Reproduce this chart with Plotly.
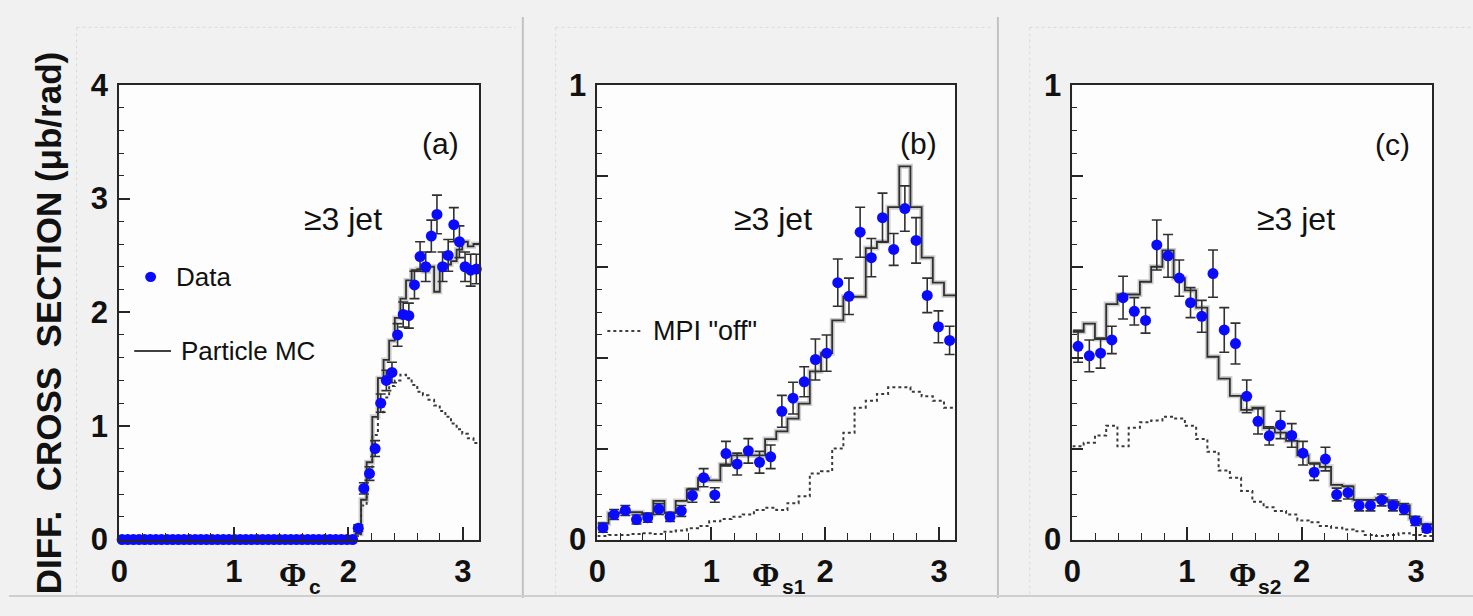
import numpy as np
import plotly.graph_objects as go

W, H = 1473, 616
PI = np.pi

# ---------------- data ----------------
# panel (a): Phi_c, 64 bins on [0, pi]
data_a = [0, 0, 0, 0, 0, 0, 0, 0, 0, 0,
          0, 0, 0, 0, 0, 0, 0, 0, 0, 0,
          0, 0, 0, 0, 0, 0, 0, 0, 0, 0,
          0, 0, 0, 0, 0, 0, 0, 0, 0, 0,
          0, 0,
          0.10, 0.45, 0.58, 0.80, 1.20, 1.40, 1.47, 1.80, 1.98, 1.97,
          2.24, 2.49, 2.40, 2.67, 2.86, 2.40, 2.50, 2.77, 2.62, 2.40,
          2.37, 2.38]
err_a = [0, 0, 0, 0, 0, 0, 0, 0, 0, 0,
         0, 0, 0, 0, 0, 0, 0, 0, 0, 0,
         0, 0, 0, 0, 0, 0, 0, 0, 0, 0,
         0, 0, 0, 0, 0, 0, 0, 0, 0, 0,
         0, 0,
         0.03, 0.05, 0.06, 0.07, 0.08, 0.09, 0.09, 0.10, 0.11, 0.11,
         0.12, 0.13, 0.13, 0.14, 0.17, 0.13, 0.14, 0.15, 0.14, 0.13,
         0.14, 0.13]
mc_a = [0, 0, 0, 0, 0, 0, 0, 0, 0, 0,
        0, 0, 0, 0, 0, 0, 0, 0, 0, 0,
        0, 0, 0, 0, 0, 0, 0, 0, 0, 0,
        0, 0, 0, 0, 0, 0, 0, 0, 0, 0,
        0, 0,
        0.05, 0.35, 0.68, 1.08, 1.42, 1.58, 1.75, 1.95, 2.12, 2.28,
        2.37, 2.38, 2.36, 2.40, 2.18, 2.40, 2.42, 2.45, 2.55, 2.62,
        2.58, 2.60]
mpi_a = [0, 0, 0, 0, 0, 0, 0, 0, 0, 0,
         0, 0, 0, 0, 0, 0, 0, 0, 0, 0,
         0, 0, 0, 0, 0, 0, 0, 0, 0, 0,
         0, 0, 0, 0, 0, 0, 0, 0, 0, 0,
         0, 0,
         0.03, 0.30, 0.60, 0.92, 1.12, 1.25, 1.35, 1.40, 1.45, 1.42,
         1.36, 1.30, 1.27, 1.23, 1.18, 1.13, 1.08, 1.02, 0.97, 0.93,
         0.89, 0.85]

# panel (b): Phi_s1, 32 bins on [0, pi]
data_b = [0.026, 0.055, 0.064, 0.044, 0.048, 0.067, 0.050, 0.063, 0.097, 0.136,
          0.098, 0.189, 0.166, 0.195, 0.170, 0.182, 0.282, 0.311, 0.347, 0.396,
          0.410, 0.565, 0.535, 0.676, 0.620, 0.708, 0.638, 0.728, 0.658, 0.537,
          0.468, 0.438]
err_b = [0.010, 0.011, 0.011, 0.010, 0.010, 0.012, 0.010, 0.012, 0.015, 0.020,
         0.016, 0.027, 0.024, 0.027, 0.024, 0.026, 0.035, 0.035, 0.033, 0.045,
         0.040, 0.052, 0.040, 0.055, 0.042, 0.054, 0.035, 0.050, 0.050, 0.038,
         0.035, 0.031]
mc_b = [0.035, 0.058, 0.060, 0.060, 0.055, 0.085, 0.058, 0.085, 0.110, 0.135,
        0.130, 0.165, 0.185, 0.185, 0.185, 0.221, 0.238, 0.266, 0.299, 0.370,
        0.410, 0.482, 0.534, 0.534, 0.641, 0.655, 0.731, 0.821, 0.731, 0.620,
        0.565, 0.537]
mpi_b = [0.008, 0.010, 0.010, 0.012, 0.014, 0.012, 0.017, 0.020, 0.025, 0.030,
         0.040, 0.045, 0.050, 0.055, 0.065, 0.070, 0.065, 0.080, 0.095, 0.145,
         0.150, 0.200, 0.235, 0.290, 0.305, 0.320, 0.335, 0.335, 0.325, 0.315,
         0.305, 0.290]

# panel (c): Phi_s2, 32 bins on [0, pi]
data_c = [0.425, 0.404, 0.410, 0.439, 0.532, 0.502, 0.482, 0.648, 0.624, 0.575,
          0.521, 0.491, 0.585, 0.461, 0.431, 0.315, 0.260, 0.228, 0.252, 0.229,
          0.190, 0.148, 0.177, 0.099, 0.103, 0.075, 0.075, 0.087, 0.075, 0.067,
          0.041, 0.024]
err_c = [0.035, 0.035, 0.033, 0.030, 0.047, 0.030, 0.028, 0.055, 0.047, 0.040,
         0.033, 0.035, 0.052, 0.049, 0.045, 0.036, 0.028, 0.020, 0.030, 0.026,
         0.026, 0.018, 0.026, 0.014, 0.014, 0.012, 0.012, 0.013, 0.012, 0.012,
         0.010, 0.008]
mc_c = [0.457, 0.475, 0.441, 0.518, 0.539, 0.539, 0.567, 0.600, 0.636, 0.575,
        0.548, 0.510, 0.402, 0.354, 0.316, 0.285, 0.290, 0.245, 0.235, 0.217,
        0.185, 0.168, 0.160, 0.120, 0.117, 0.087, 0.087, 0.091, 0.083, 0.075,
        0.046, 0.034]
mpi_c = [0.205, 0.213, 0.229, 0.250, 0.205, 0.246, 0.258, 0.262, 0.270, 0.266,
         0.250, 0.221, 0.193, 0.152, 0.136, 0.107, 0.083, 0.071, 0.063, 0.055,
         0.042, 0.038, 0.030, 0.026, 0.022, 0.018, 0.010, 0.008, 0.010, 0.014,
         0.010, 0.008]

panel_labels = ["(a)", "(b)", "(c)"]
jet_label = "\u22653 jet"
axis_symbols = ["c", "s1", "s2"]
ytitle = "DIFF.\u00a0\u00a0CROSS\u00a0\u00a0SECTION (\u03bcb/rad)"

# ---------------- styling ----------------
SANS = "Liberation Sans, Arial, Helvetica, sans-serif"
SERIF = "Liberation Serif, Times New Roman, serif"
DARK = "#262626"
BLUE = "#0a0aff"


def px(x):
    return x / W


def py(y):
    return 1 - y / H


fig = go.Figure()

panels = [
    ("x", "y", data_a, err_a, mc_a, mpi_a),
    ("x2", "y2", data_b, err_b, mc_b, mpi_b),
    ("x3", "y3", data_c, err_c, mc_c, mpi_c),
]

for xa, ya, d, e, mc, mpi in panels:
    n = len(d)
    centers = (np.arange(n) + 0.5) * PI / n
    edges = np.linspace(0, PI, n + 1)
    # MPI off (dotted)
    fig.add_trace(go.Scatter(x=edges, y=list(mpi) + [mpi[-1]], mode="lines",
                             line=dict(shape="hv", color="#3a3a3a", width=2, dash="dot"),
                             xaxis=xa, yaxis=ya, showlegend=False, hoverinfo="skip"))
    # MC band + line
    fig.add_trace(go.Scatter(x=edges, y=list(mc) + [mc[-1]], mode="lines",
                             line=dict(shape="hv", color="rgba(120,120,120,0.35)", width=5),
                             xaxis=xa, yaxis=ya, showlegend=False, hoverinfo="skip"))
    fig.add_trace(go.Scatter(x=edges, y=list(mc) + [mc[-1]], mode="lines",
                             line=dict(shape="hv", color="#303030", width=1.8),
                             xaxis=xa, yaxis=ya, showlegend=False, hoverinfo="skip"))
    # data
    fig.add_trace(go.Scatter(x=centers, y=d, mode="markers",
                             marker=dict(color=BLUE, size=11, line=dict(width=0)),
                             error_y=dict(type="data", array=e, color="#303030",
                                          thickness=1.6, width=5),
                             cliponaxis=False,
                             xaxis=xa, yaxis=ya, showlegend=False))

ydom = [py(554), py(72)]
xdoms = [[px(111), px(473)], [px(592), px(952)], [px(1070), px(1432)]]

common_x = dict(range=[0, PI], showline=True, mirror=True, linecolor=DARK, linewidth=2,
                ticks="inside", ticklen=13, tickwidth=1.5, tickcolor=DARK,
                tickmode="array", tickvals=[0, 1, 2, 3], ticktext=["0", "1", "2", "3"],
                tickfont=dict(family=SANS, size=31, color="#111", weight="bold"),
                minor=dict(ticks="inside", ticklen=7, tickwidth=1.2, tickcolor=DARK,
                           tickmode="linear", tick0=0, dtick=0.2),
                showgrid=False, zeroline=False, ticklabelstandoff=3, fixedrange=True)

layout = dict(width=W, height=H, margin=dict(l=0, r=0, t=0, b=0),
              paper_bgcolor="#f1f1f1", plot_bgcolor="#fdfdfd", showlegend=False)

for i, dom in enumerate(xdoms):
    key = "xaxis" if i == 0 else f"xaxis{i+1}"
    anc = "y" if i == 0 else f"y{i+1}"
    layout[key] = dict(common_x, domain=dom, anchor=anc)

common_y = dict(showline=True, mirror=True, linecolor=DARK, linewidth=2,
                ticks="inside", ticklen=11, tickwidth=1.5, tickcolor=DARK,
                tickfont=dict(family=SANS, size=31, color="#111", weight="bold"),
                showgrid=False, zeroline=False, ticklabelstandoff=3, fixedrange=True,
                domain=ydom)

layout["yaxis"] = dict(common_y, range=[0, 4], anchor="x", tickmode="array",
                       tickvals=[0, 1, 2, 3, 4], ticktext=["0", "1", "2", "3", "4"],
                       minor=dict(ticks="inside", ticklen=5, tickwidth=1.2, tickcolor=DARK,
                                  tickmode="linear", tick0=0, dtick=0.2))
for i in (2, 3):
    layout[f"yaxis{i}"] = dict(common_y, range=[0, 1], anchor=f"x{i}", tickmode="array",
                               tickvals=[0, 0.2, 0.4, 0.6, 0.8, 1.0],
                               ticktext=["0", "", "", "", "", "1"],
                               minor=dict(ticks="inside", ticklen=5, tickwidth=1.2,
                                          tickcolor=DARK, tickmode="linear", tick0=0,
                                          dtick=0.05))

fig.update_layout(**layout)

ann = []
# y-axis title
ann.append(dict(x=px(40), y=py(324), xref="paper", yref="paper", text="<b>" + ytitle + "</b>",
                textangle=-90, showarrow=False, xanchor="center", yanchor="middle",
                font=dict(family=SANS, size=35, color="#111")))
# panel labels and jet labels
for lab, (x, y) in zip(panel_labels, [(434, 134), (915, 134), (1392, 135)]):
    ann.append(dict(x=px(x), y=py(y), xref="paper", yref="paper", text=lab, showarrow=False,
                    xanchor="center", yanchor="middle",
                    font=dict(family=SANS, size=30, color="#111")))
for x in (336, 769, 1295):
    ann.append(dict(x=px(x), y=py(214), xref="paper", yref="paper", text=jet_label,
                    showarrow=False, xanchor="center", yanchor="middle",
                    font=dict(family=SANS, size=32, color="#111")))
# axis titles: Phi + subscript (two separate texts)
for sym, (xp, xs) in zip(axis_symbols, [(271, 301), (747, 777), (1226, 1256)]):
    ann.append(dict(x=px(xp), y=py(592), xref="paper", yref="paper", text="<b>\u03a6</b>",
                    showarrow=False, xanchor="left", yanchor="middle", borderpad=0,
                    font=dict(family=SERIF, size=33, color="#111")))
    ann.append(dict(x=px(xs), y=py(604), xref="paper", yref="paper", text="<b>" + sym + "</b>",
                    showarrow=False, xanchor="left", yanchor="middle", borderpad=0,
                    font=dict(family=SANS, size=21, color="#111")))
# legend texts
ann.append(dict(x=px(166), y=py(276), xref="paper", yref="paper", text="Data",
                showarrow=False, xanchor="left", yanchor="middle",
                font=dict(family=SANS, size=26, color="#111")))
ann.append(dict(x=px(171), y=py(354), xref="paper", yref="paper", text="Particle MC",
                showarrow=False, xanchor="left", yanchor="middle",
                font=dict(family=SANS, size=26, color="#111")))
ann.append(dict(x=px(646), y=py(333), xref="paper", yref="paper", text="MPI \"off\"",
                showarrow=False, xanchor="left", yanchor="middle",
                font=dict(family=SANS, size=27, color="#111")))

shapes = []
# page decorations: separators and faint dotted frames
for x in (517, 995):
    shapes.append(dict(type="line", xref="paper", yref="paper", x0=px(x), x1=px(x), y0=0, y1=1,
                       line=dict(color="#c2c2c2", width=2)))
shapes.append(dict(type="line", xref="paper", yref="paper", x0=0, x1=1, y0=py(614), y1=py(614),
                   line=dict(color="#cfcfcf", width=2)))
for (xl, xr) in [(68, 510), (550, 990), (1027, 1473)]:
    shapes.append(dict(type="line", xref="paper", yref="paper", x0=px(xl), x1=px(xr),
                       y0=py(11), y1=py(11), line=dict(color="#dadada", width=1, dash="dot")))
    shapes.append(dict(type="line", xref="paper", yref="paper", x0=px(xl), x1=px(xl),
                       y0=py(11), y1=py(612), line=dict(color="#dadada", width=1, dash="dot")))
# legend samples
shapes.append(dict(type="circle", xref="paper", yref="paper", x0=px(137), x1=px(148),
                   y0=py(281), y1=py(270), fillcolor=BLUE, line=dict(width=0)))
shapes.append(dict(type="line", xref="paper", yref="paper", x0=px(126), x1=px(163),
                   y0=py(354), y1=py(354), line=dict(color="#404040", width=2)))
shapes.append(dict(type="line", xref="paper", yref="paper", x0=px(602), x1=px(637),
                   y0=py(333), y1=py(333), line=dict(color="#404040", width=2, dash="dot")))

fig.update_layout(annotations=ann, shapes=shapes)
fig.write_html("out.html")
